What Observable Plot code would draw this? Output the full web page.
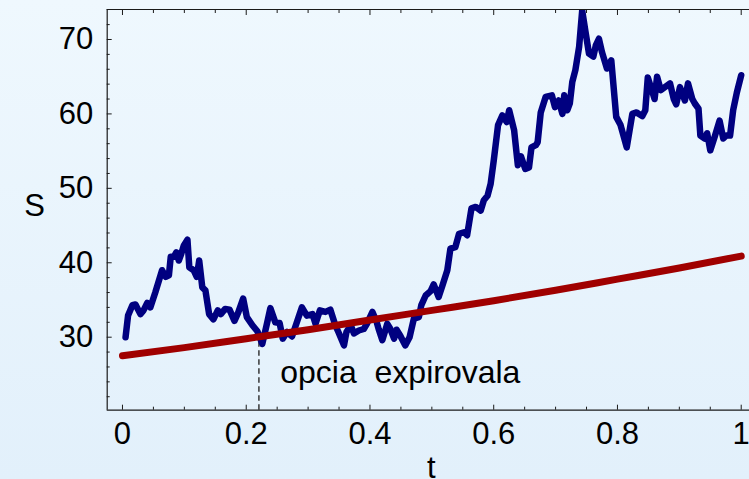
<!DOCTYPE html>
<html>
<head>
<meta charset="utf-8">
<script src="https://cdn.jsdelivr.net/npm/d3@7"></script>
<script src="https://cdn.jsdelivr.net/npm/@observablehq/plot@0.6"></script>
<style>
  html, body { margin: 0; padding: 0; }
  body {
    width: 749px; height: 479px; overflow: hidden;
    background: linear-gradient(to bottom, #eff8fe, #e2f0fb);
  }
</style>
</head>
<body>
<div id="chart"></div>
<script>
// ---- data ----
const pathT = [0.005,0.009,0.016,0.021,0.029,0.034,0.040,0.045,0.053,0.064,0.070,0.075,0.078,0.083,0.087,0.091,0.095,0.099,0.105,0.108,0.115,0.120,0.124,0.129,0.134,0.140,0.147,0.154,0.159,0.166,0.173,0.181,0.187,0.195,0.201,0.210,0.218,0.226,0.234,0.239,0.247,0.254,0.259,0.266,0.274,0.281,0.290,0.298,0.307,0.312,0.319,0.328,0.336,0.344,0.350,0.358,0.362,0.369,0.374,0.382,0.390,0.395,0.404,0.411,0.414,0.420,0.428,0.433,0.439,0.443,0.449,0.457,0.464,0.471,0.479,0.483,0.490,0.498,0.503,0.511,0.517,0.525,0.530,0.538,0.544,0.552,0.557,0.564,0.571,0.579,0.584,0.590,0.595,0.600,0.607,0.614,0.621,0.625,0.633,0.639,0.644,0.651,0.657,0.661,0.668,0.671,0.676,0.684,0.694,0.699,0.705,0.711,0.714,0.719,0.723,0.727,0.732,0.738,0.743,0.748,0.754,0.761,0.765,0.770,0.775,0.783,0.790,0.798,0.805,0.815,0.824,0.831,0.840,0.845,0.849,0.854,0.860,0.864,0.870,0.880,0.885,0.891,0.895,0.901,0.909,0.914,0.921,0.925,0.931,0.934,0.941,0.945,0.950,0.957,0.965,0.971,0.976,0.982,0.987,0.993,1.000];
const pathS = [30.0,32.9,34.3,34.4,33.1,33.6,34.6,34.0,36.0,39.0,38.1,38.3,40.8,40.8,41.4,40.3,41.2,42.3,43.1,39.4,39.0,38.1,40.3,36.7,36.3,33.1,32.4,33.6,33.1,33.8,33.7,32.2,33.3,35.2,32.7,31.6,30.8,29.1,32.0,33.9,32.0,31.9,29.8,30.7,30.1,31.8,34.0,32.9,33.1,31.8,33.6,33.4,33.7,31.6,30.5,28.9,30.7,31.6,30.5,30.9,31.1,31.8,33.4,32.0,31.1,29.6,31.8,31.1,29.8,31.0,30.2,28.9,30.0,32.5,32.7,34.3,35.6,36.2,37.1,35.4,36.9,39.0,41.9,42.1,43.9,44.1,43.7,47.3,47.5,47.0,48.4,49.0,50.6,53.7,58.5,59.8,58.9,60.5,57.8,53.1,54.3,52.6,52.8,55.5,55.8,56.2,60.2,62.3,62.5,60.9,61.8,60.0,62.5,60.5,61.4,64.3,65.9,69.0,73.9,71.2,68.1,67.7,69.2,70.1,68.3,66.1,67.2,59.6,58.5,55.5,60.0,60.2,59.7,60.5,64.9,63.6,62.0,65.0,63.2,63.8,64.1,62.0,61.3,63.6,61.8,64.1,62.0,61.4,60.7,57.1,56.7,57.4,55.1,56.9,59.1,56.7,57.1,57.1,60.5,62.9,65.2];

const barrierT = [0, 0.1, 0.2, 0.3, 0.4, 0.5, 0.6, 0.7, 0.8, 0.9, 1.0];
const barrierS = [27.5, 28.6, 29.8, 31.0, 32.3, 33.6, 34.9, 36.3, 37.8, 39.3, 40.9];

const expiryT = 0.2205;
const expiryS = 30.0;
const annotation = [{t: 0.255, S: 23.8, label: "opcia  expirovala"}];

const xDomain = [-0.0247, 1.0134];
const yDomain = [20.19, 74.03];
const xTicks = [0, 0.2, 0.4, 0.6, 0.8, 1];
const xTickLabels = ["0", "0.2", "0.4", "0.6", "0.8", "1"];
const xMinor = [0.05,0.1,0.15,0.25,0.3,0.35,0.45,0.5,0.55,0.65,0.7,0.75,0.85,0.9,0.95];
const yTicks = [30, 40, 50, 60, 70];
const yTickLabels = ["30", "40", "50", "60", "70"];
const yMinor = [22,24,26,28,32,34,36,38,42,44,46,48,52,54,56,58,62,64,66,68,72];

// ---- build ----
const path = pathT.map((t, i) => ({t, S: pathS[i]}));
const barrier = barrierT.map((t, i) => ({t, S: barrierS[i]}));
const frameColor = "#1a1a1a";
const font = 31;

const chart = Plot.plot({
  width: 749,
  height: 479,
  marginLeft: 106.7,
  marginRight: 0,
  marginTop: 9,
  marginBottom: 69.3,
  style: {background: "transparent", fontFamily: "'Liberation Sans', Arial, Helvetica, sans-serif", overflow: "visible", color: "#000"},
  x: {domain: xDomain, axis: null},
  y: {domain: yDomain, axis: null},
  marks: [
    // dashed expiry line
    Plot.ruleX([expiryT], {y1: yDomain[0], y2: expiryS, stroke: "#2a2a2a", strokeWidth: 1.4, strokeDasharray: "5.5,3.5"}),
    // simulated path
    Plot.line(path, {x: "t", y: "S", stroke: "#000080", strokeWidth: 6.5, strokeLinejoin: "round", strokeLinecap: "round", clip: true}),
    // barrier
    Plot.line(barrier, {x: "t", y: "S", stroke: "#a00000", strokeWidth: 7, strokeLinecap: "round", curve: "monotone-x"}),
    // annotation
    Plot.text(annotation, {x: "t", y: "S", text: "label", textAnchor: "start", lineAnchor: "bottom", fontSize: 32, fill: "#000"}),
    // frame
    Plot.ruleX([xDomain[0]], {stroke: frameColor, strokeWidth: 1.2}),
    Plot.ruleY([yDomain[0], yDomain[1]], {stroke: frameColor, strokeWidth: 1.2}),
    // x axis bottom
    Plot.axisX(xTicks, {anchor: "bottom", tickSize: -5, tickPadding: 17, tickFormat: (d, i) => xTickLabels[i], fontSize: font, fill: "#000", stroke: frameColor, label: null}),
    Plot.axisX(xMinor, {anchor: "bottom", tickSize: -3, tickFormat: () => "", stroke: frameColor, label: null}),
    // x axis top
    Plot.axisX(xTicks, {anchor: "top", tickSize: -5, tickFormat: () => "", stroke: frameColor, label: null}),
    Plot.axisX(xMinor, {anchor: "top", tickSize: -3, tickFormat: () => "", stroke: frameColor, label: null}),
    // y axis left
    Plot.axisY(yTicks, {anchor: "left", tickSize: -5, tickPadding: 19, tickFormat: (d, i) => yTickLabels[i], fontSize: font, fill: "#000", stroke: frameColor, label: null}),
    Plot.axisY(yMinor, {anchor: "left", tickSize: -3, tickFormat: () => "", stroke: frameColor, label: null}),
    // axis titles
    Plot.text(["S"], {frameAnchor: "left", dx: -83, dy: -4, fontSize: 31, fill: "#000"}),
    Plot.text(["t"], {frameAnchor: "bottom", dx: 3, dy: 68, fontSize: 31, fill: "#000"})
  ]
});
document.getElementById("chart").appendChild(chart);
</script>
</body>
</html>
